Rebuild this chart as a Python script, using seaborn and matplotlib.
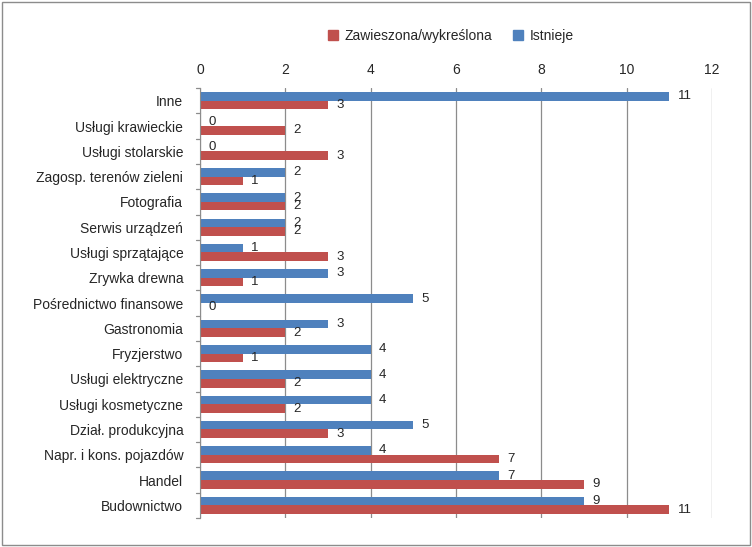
import seaborn as sns
import pandas as pd
import matplotlib.pyplot as plt
from matplotlib.patches import Patch, Rectangle

# kategorie od gory do dolu, jak na obrazku
kategorie = ['Inne', 'Usługi krawieckie', 'Usługi stolarskie', 'Zagosp. terenów zieleni',
             'Fotografia', 'Serwis urządzeń', 'Usługi sprzątające', 'Zrywka drewna',
             'Pośrednictwo finansowe', 'Gastronomia', 'Fryzjerstwo', 'Usługi elektryczne',
             'Usługi kosmetyczne', 'Dział. produkcyjna', 'Napr. i kons. pojazdów',
             'Handel', 'Budownictwo']
istnieje = [11, 0, 0, 2, 2, 2, 1, 3, 5, 3, 4, 4, 4, 5, 4, 7, 9]
zawieszona = [3, 2, 3, 1, 2, 2, 3, 1, 0, 2, 1, 2, 2, 3, 7, 9, 11]
serie = ['Istnieje', 'Zawieszona/wykreślona']
kolory = {'Istnieje': '#4F81BD', 'Zawieszona/wykreślona': '#C0504D'}
ticki = [0, 2, 4, 6, 8, 10, 12]

df = pd.DataFrame({'kategoria': kategorie * 2,
                   'wartosc': istnieje + zawieszona,
                   'seria': [serie[0]] * len(kategorie) + [serie[1]] * len(kategorie)})

sns.set_style('white')
plt.rcParams['font.family'] = ['Liberation Sans', 'DejaVu Sans']

fig = plt.figure(figsize=(7.52, 5.47), dpi=100)
ax = fig.add_axes([0.266, 0.053, 0.681, 0.786])

sns.barplot(data=df, y='kategoria', x='wartosc', hue='seria', hue_order=serie,
            palette=kolory, orient='h', width=0.68, ax=ax, legend=False,
            edgecolor='none', saturation=1)

for c in ax.containers:
    ax.bar_label(c, padding=6, fontsize=9.5)

ax.set_ylim(len(kategorie) - 0.5, -0.5)
ax.set_xlim(0, 12)
ax.set_xticks(ticki)
ax.xaxis.tick_top()
ax.tick_params(axis='x', length=0, labelsize=10, pad=8)
ax.tick_params(axis='y', length=0, labelsize=10, pad=12)
ax.set_xlabel('')
ax.set_ylabel('')
ax.grid(axis='x', color='#8c8c8c', linewidth=0.9)
ax.set_axisbelow(True)
for s in ['top', 'right', 'bottom']:
    ax.spines[s].set_visible(False)
ax.spines['left'].set_color('#8c8c8c')

# kreski przy osi kategorii
for i in range(len(kategorie) + 1):
    ax.plot([-0.1, 0], [i - 0.5, i - 0.5], color='#8c8c8c', lw=0.9, clip_on=False)

uchwyty = [Patch(color=kolory[serie[1]], label=serie[1]),
           Patch(color=kolory[serie[0]], label=serie[0])]
fig.legend(handles=uchwyty, loc='center', bbox_to_anchor=(0.60, 0.935), ncol=2,
           frameon=False, fontsize=10, handlelength=0.7, handleheight=0.7,
           columnspacing=1.5, handletextpad=0.5)

fig.patches.append(Rectangle((0.003, 0.004), 0.994, 0.992, transform=fig.transFigure,
                             fill=False, edgecolor='#8c8c8c', lw=1))

fig.savefig('out.png', dpi=100)
